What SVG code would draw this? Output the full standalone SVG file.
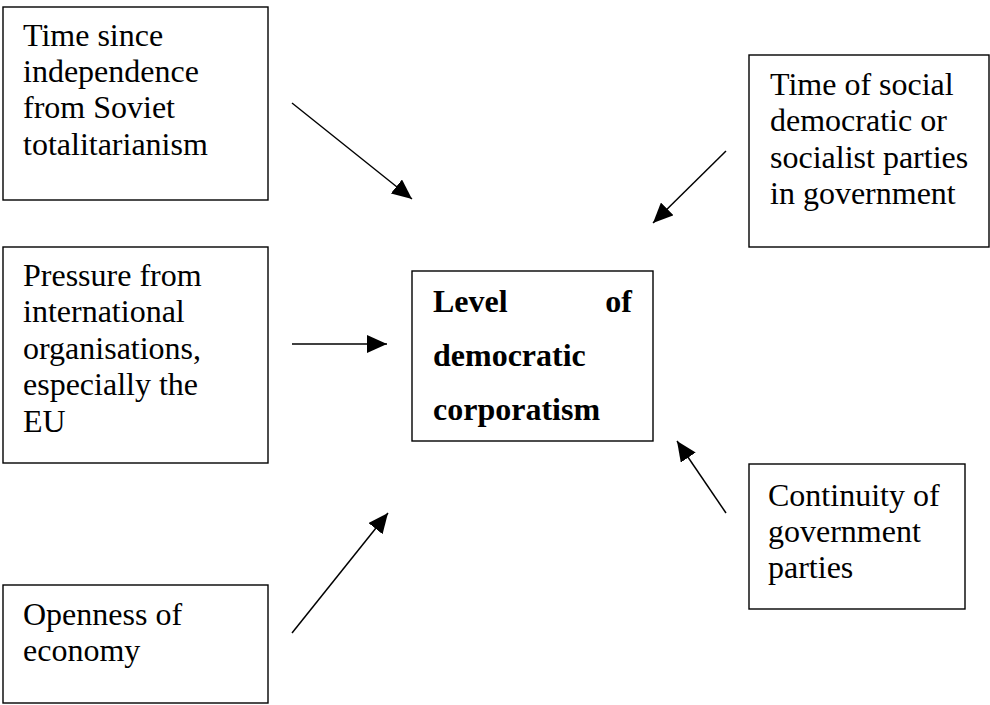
<svg xmlns="http://www.w3.org/2000/svg" width="990" height="705" viewBox="0 0 990 705">
  <style>
    .box { fill: #ffffff; stroke: #000000; stroke-width: 1.4; }
    .lbl { font-family: "Liberation Serif", "Times New Roman", serif; font-size: 32px; fill: #000000; }
    .bold { font-weight: bold; }
    .conn { stroke: #000000; stroke-width: 1.5; fill: none; marker-end: url(#head); }
  </style>
  <defs>
    <marker id="head" viewBox="0 0 20 18" refX="20" refY="9" markerWidth="20" markerHeight="18" markerUnits="userSpaceOnUse" orient="auto">
      <path d="M0,0 L20,9 L0,18 Z" fill="#000000"/>
    </marker>
  </defs>
  <rect width="990" height="705" fill="#ffffff"/>

  <g id="node-independence">
    <rect class="box" x="3" y="7" width="265" height="193"/>
    <text class="lbl" x="23" y="46">Time since</text>
    <text class="lbl" x="23" y="82">independence</text>
    <text class="lbl" x="23" y="118">from Soviet</text>
    <text class="lbl" x="23" y="155">totalitarianism</text>
  </g>

  <g id="node-pressure">
    <rect class="box" x="3" y="247" width="265" height="216"/>
    <text class="lbl" x="23" y="286">Pressure from</text>
    <text class="lbl" x="23" y="322">international</text>
    <text class="lbl" x="23" y="359">organisations,</text>
    <text class="lbl" x="23" y="395">especially the</text>
    <text class="lbl" x="23" y="432">EU</text>
  </g>

  <g id="node-openness">
    <rect class="box" x="3" y="585" width="265" height="118"/>
    <text class="lbl" x="23" y="625">Openness of</text>
    <text class="lbl" x="23" y="661">economy</text>
  </g>

  <g id="node-corporatism">
    <rect class="box" x="412" y="271" width="241" height="170"/>
    <text class="lbl bold" x="433" y="312">Level</text>
    <text class="lbl bold" x="632" y="312" text-anchor="end">of</text>
    <text class="lbl bold" x="433" y="366">democratic</text>
    <text class="lbl bold" x="433" y="420">corporatism</text>
  </g>

  <g id="node-socialist">
    <rect class="box" x="749" y="55" width="240" height="192"/>
    <text class="lbl" x="770" y="95">Time of social</text>
    <text class="lbl" x="770" y="131">democratic or</text>
    <text class="lbl" x="770" y="168">socialist parties</text>
    <text class="lbl" x="770" y="204">in government</text>
  </g>

  <g id="node-continuity">
    <rect class="box" x="749" y="464" width="216" height="145"/>
    <text class="lbl" x="768" y="506">Continuity of</text>
    <text class="lbl" x="768" y="542">government</text>
    <text class="lbl" x="768" y="578">parties</text>
  </g>

  <g id="connectors">
    <line class="conn" x1="292" y1="103" x2="412" y2="199"/>
    <line class="conn" x1="292" y1="344" x2="387" y2="344"/>
    <line class="conn" x1="292" y1="633" x2="388" y2="513"/>
    <line class="conn" x1="726" y1="151" x2="653" y2="223"/>
    <line class="conn" x1="726" y1="513" x2="677" y2="441"/>
  </g>
</svg>
